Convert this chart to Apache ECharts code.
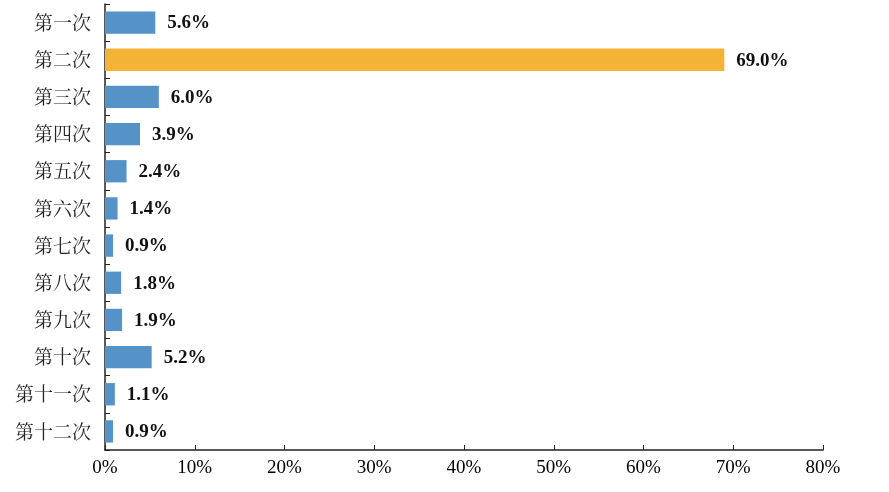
<!DOCTYPE html>
<html><head><meta charset="utf-8">
<script src="https://cdn.jsdelivr.net/npm/echarts@6/dist/echarts.min.js"></script>
<style>html,body{margin:0;padding:0;background:#fff}#c{width:889px;height:492px}</style>
</head><body><div id="c"></div>
<script>
const categories = ['第一次','第二次','第三次','第四次','第五次','第六次','第七次','第八次','第九次','第十次','第十一次','第十二次'];
const values = [5.6, 69.0, 6.0, 3.9, 2.4, 1.4, 0.9, 1.8, 1.9, 5.2, 1.1, 0.9];
const highlightIndex = 1;
const xTicks = [0, 10, 20, 30, 40, 50, 60, 70, 80];

const chart = echarts.init(document.getElementById('c'));
chart.setOption({
  animation: false,
  grid: {left: 105, right: 66, top: 4, bottom: 42, containLabel: false},
  xAxis: {
    type: 'value', min: xTicks[0], max: xTicks[xTicks.length-1], interval: 10,
    axisLine: {show: true, lineStyle: {color: '#222', width: 1.5}},
    axisTick: {show: true, inside: true, length: 5, lineStyle: {color: '#222'}},
    splitLine: {show: false},
    axisLabel: {formatter: v => v + '%', fontFamily: 'Liberation Serif', fontSize: 19, color: '#000', margin: 9}
  },
  yAxis: {
    type: 'category', data: categories, inverse: true,
    axisLine: {show: true, lineStyle: {color: '#222', width: 1.5}},
    axisTick: {show: true, inside: true, length: 5, lineStyle: {color: '#222'}},
    axisLabel: {fontFamily: 'Noto Serif CJK SC, Noto Sans CJK SC, serif', fontSize: 19, color: '#222', margin: 14}
  },
  series: [{
    type: 'bar',
    data: values.map((v, i) => ({value: v, itemStyle: {color: i === highlightIndex ? '#F5B335' : '#5592C8'}})),
    barCategoryGap: '40%',
    label: {show: true, position: 'right', distance: 12, offset: [0, 1], formatter: p => p.value.toFixed(1) + '%',
      fontFamily: 'Liberation Serif', fontWeight: 'bold', fontSize: 19, color: '#111'}
  }]
});
</script></body></html>
